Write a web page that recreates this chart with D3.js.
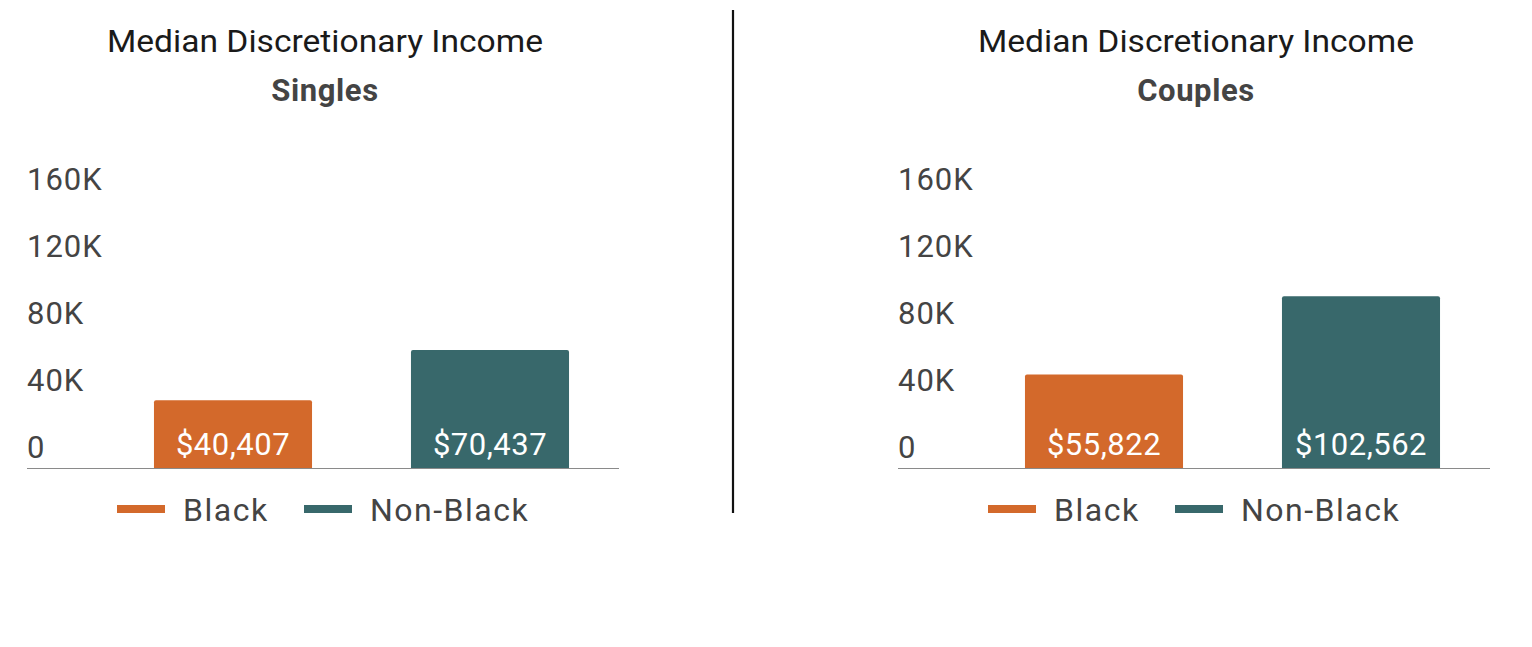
<!DOCTYPE html>
<html><head><meta charset="utf-8">
<script src="https://cdn.jsdelivr.net/npm/d3@7"></script>
<style>body{margin:0;background:#fff}svg{display:block}</style>
</head><body>
<svg id="chart" width="1532" height="647"></svg>
<script>
const panels = ["Singles", "Couples"];
const categories = ["Black", "Non-Black"];
const singlesValues = [40407, 70437];
const couplesValues = [55822, 102562];
const tickValues = [0, 40000, 80000, 120000, 160000];
const tickLabels = ["0", "40K", "80K", "120K", "160K"];
const chartTitle = "Median Discretionary Income";
const colors = ["#D3692B", "#38686B"];

const svg = d3.select("#chart");
const fmt = d3.format("$,");
const seriesByPanel = [singlesValues, couplesValues];

const y = d3.scaleLinear().domain([0, 160000]).range([468, 200]);

panels.forEach((name, i) => {
  const ox = i * 871;
  const g = svg.append("g").attr("transform", `translate(${ox},0)`);
  const vals = seriesByPanel[i];
  const x = d3.scaleBand().domain(categories).range([104.5, 618.5])
    .paddingInner(0.385).paddingOuter(0.1925);

  g.append("text").attr("x", 325).attr("y", 52).attr("text-anchor", "middle")
    .attr("font-family", "Roboto").attr("font-weight", 400).attr("font-size", 31)
    .attr("fill", "#1a1a1a").attr("textLength", 436).attr("lengthAdjust", "spacingAndGlyphs")
    .text(chartTitle);
  g.append("text").attr("x", 325).attr("y", 101).attr("text-anchor", "middle")
    .attr("font-family", "Roboto").attr("font-weight", 700).attr("font-size", 31)
    .attr("letter-spacing", 0.6)
    .attr("fill", "#444").text(name);

  // y tick labels (above tick positions)
  g.selectAll("text.tick").data(tickValues).enter().append("text")
    .attr("class", "tick")
    .attr("x", 27).attr("y", d => y(d) - 10)
    .attr("font-family", "Roboto").attr("font-size", 31).attr("letter-spacing", 1)
    .attr("fill", "#444")
    .text((d, j) => tickLabels[j]);

  // bars
  g.selectAll("path.bar").data(vals).enter().append("path")
    .attr("class", "bar")
    .attr("fill", (d, j) => colors[j])
    .attr("d", (d, j) => {
      const x0 = x(categories[j]), w = x.bandwidth(), y0 = y(d), y1 = y(0), r = 2;
      return `M${x0},${y1}V${y0 + r}Q${x0},${y0} ${x0 + r},${y0}H${x0 + w - r}Q${x0 + w},${y0} ${x0 + w},${y0 + r}V${y1}Z`;
    });

  g.selectAll("text.val").data(vals).enter().append("text")
    .attr("class", "val")
    .attr("x", (d, j) => x(categories[j]) + x.bandwidth() / 2)
    .attr("y", y(0) - 13.5)
    .attr("text-anchor", "middle")
    .attr("font-family", "Roboto").attr("font-size", 31).attr("letter-spacing", 0.5)
    .attr("fill", "#fff")
    .text(d => fmt(d));

  // baseline
  g.append("line").attr("x1", 27).attr("x2", 619).attr("y1", y(0) + 0.5).attr("y2", y(0) + 0.5)
    .attr("stroke", "#8a8a8a").attr("stroke-width", 1.2);

  // legend
  const legX = [117, 304];
  categories.forEach((c, j) => {
    g.append("rect").attr("x", legX[j]).attr("y", 505).attr("width", 48).attr("height", 8)
      .attr("fill", colors[j]);
    g.append("text").attr("x", legX[j] + 66).attr("y", 521)
      .attr("font-family", "Roboto").attr("font-size", 32).attr("letter-spacing", 1.5)
      .attr("fill", "#444").text(c);
  });
});

svg.append("line").attr("x1", 733).attr("x2", 733).attr("y1", 10).attr("y2", 513)
  .attr("stroke", "#111").attr("stroke-width", 2.2);
</script>
</body></html>
